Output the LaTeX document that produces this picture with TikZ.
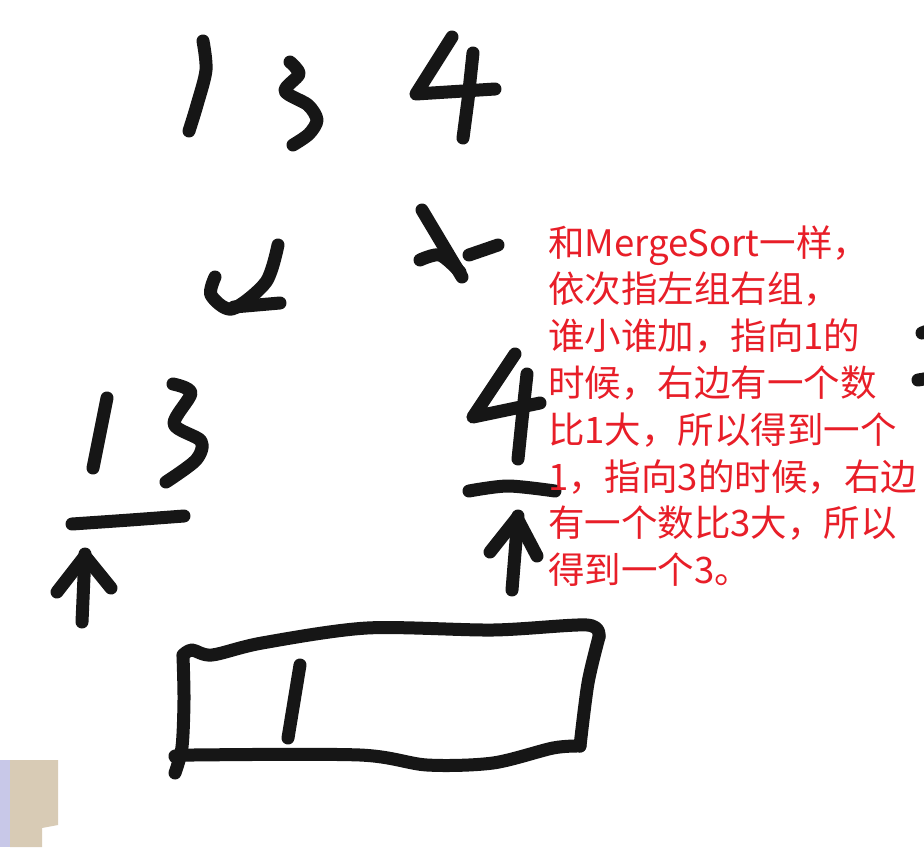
\documentclass[tikz,border=0pt]{standalone}
\usepackage{fontspec}
\newfontfamily\cjk{Noto Sans CJK SC}
\definecolor{ink}{RGB}{22,22,22}
\definecolor{note}{RGB}{232,30,40}
\definecolor{lav}{RGB}{200,200,232}
\definecolor{tanph}{RGB}{216,203,181}
\begin{document}
\begin{tikzpicture}[x=1pt,y=-1pt,
  pen/.style={draw=ink,line width=13pt,line cap=round,line join=round},
  notetext/.style={anchor=base west,inner sep=0pt,text=note,font=\cjk\fontsize{36.5}{46.8}\selectfont}]
\useasboundingbox[fill=white] (0,0) rectangle (924,847);
% top row: 1 3 4
\draw[pen] plot[smooth] coordinates {(203,41) (206,70) (197,105) (189,131)};
\draw[pen] plot[smooth] coordinates {(290,62) (299,74) (285,91) (308,105) (317,120) (309,134) (293,145)};
\draw[pen] (452,37) -- (416,94) -- (495,89);
\draw[pen] (473,53) -- (468,100) -- (463,138);
% arrows
\draw[pen] plot[smooth] coordinates {(278,245) (266,282) (232,309) (211,295) (215,277)};
\draw[pen] (234,307) -- (280,303);
\draw[pen] (422,210) -- (462,277);
\draw[pen] plot[smooth] coordinates {(420,260) (440,255) (460,272)};
\draw[pen] (469,255) -- (498,245);
% left: 1 3 over line and arrow
\draw[pen] (107,398) -- (93,468);
\draw[pen] plot[smooth] coordinates {(173,384) (191,393) (174,424) (201,441) (196,460) (166,482)};
\draw[pen] plot[smooth] coordinates {(72,524) (130,520) (184,516)};
\draw[pen] (85,554) -- (82,622);
\draw[pen] (57,592) -- (85,556) -- (111,588);
% right: 4 over line and arrow
\draw[pen] (515,354) -- (473,417) -- (540,403);
\draw[pen] (527,374) -- (522,420) -- (518,459);
\draw[pen] plot[smooth] coordinates {(469,491) (508,486) (555,491)};
\draw[pen] (518,516) -- (512,590);
\draw[pen] (490,552) -- (517,518) -- (537,556);
% cut-off marks at right edge
\draw[pen] (922,333) -- (930,330);
\draw[pen] (918,380) -- (930,378);
% box with 1
\draw[pen] plot[smooth] coordinates {(183,655) (192,650) (212,655) (262,643) (367,628) (493,630) (587,625) (599,637)};
\draw[pen] plot[smooth] coordinates {(599,637) (588,683) (580,746)};
\draw[pen] plot[smooth] coordinates {(580,746) (553,748) (493,763) (427,765) (360,755) (193,755) (176,757)};
\draw[pen] plot[smooth] coordinates {(183,656) (184,700) (182,747) (175,773)};
\draw[pen] (300,665) -- (288,738);
% photo corner
\fill[tanph] (10,760) -- (58,760) -- (58,825) -- (42,828) -- (42,847) -- (10,847) -- cycle;
\fill[lav] (0,760) rectangle (10,847);
% note
\node[notetext] (n1) at (548,256) {和MergeSort一样，};
\node[notetext] (n2) at (548,302.8) {依次指左组右组，};
\node[notetext] (n3) at (548,349.6) {谁小谁加，指向1的};
\node[notetext] (n4) at (548,396.4) {时候，右边有一个数};
\node[notetext] (n5) at (548,443.2) {比1大，所以得到一个};
\node[notetext] (n6) at (548,490) {1，指向3的时候，右边};
\node[notetext] (n7) at (548,536.8) {有一个数比3大，所以};
\node[notetext] (n8) at (548,583.6) {得到一个3。};
\end{tikzpicture}
\end{document}
